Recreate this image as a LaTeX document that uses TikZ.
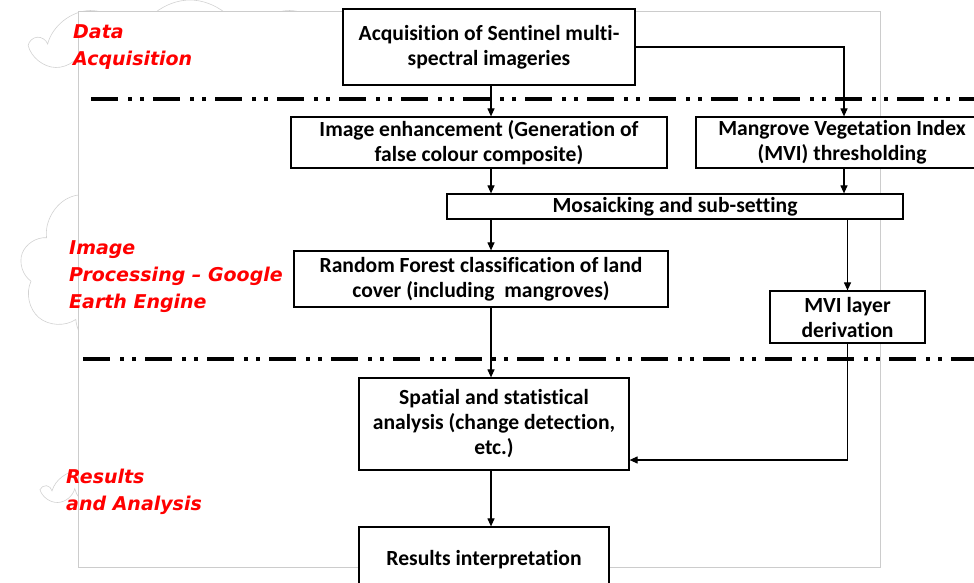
\documentclass[tikz,border=0pt]{standalone}
\usepackage{fontspec}
\setmainfont{Carlito}[Ligatures={NoCommon,TeX}]
\newfontfamily\redfont{DejaVu Sans}
\usetikzlibrary{shapes.symbols,arrows.meta}
\tikzset{
 box/.style={draw=black, line width=1.2pt, fill=white, align=center, font=\bfseries\fontsize{21.6}{25}\selectfont, inner sep=1pt},
 arr/.style={line width=1.1pt, -{Triangle[length=8pt,width=7pt]}},
 sepline/.style={line width=3.5pt, dash pattern=on 27pt off 10pt on 4pt off 8pt on 4pt off 9pt},
 lbl/.style={text=red, font=\redfont\bfseries\itshape\fontsize{19}{27}\selectfont, align=left, anchor=north west, inner sep=0pt},
 cloudbg/.style={cloud, cloud puffs=9, draw=gray!35, fill=white, line width=0.6pt},
 frame/.style={draw=gray!40, fill=white, line width=0.8pt},
}
\begin{document}
\begin{tikzpicture}[x=1pt,y=-1pt]
\useasboundingbox (0,0) rectangle (974,583);
% background clouds and frame
\node[cloudbg, minimum width=310pt, minimum height=90pt] (c1) at (190,45) {};
\node[cloudbg, minimum width=280pt, minimum height=190pt] (c2) at (160,270) {};
\node[cloudbg, minimum width=190pt, minimum height=50pt] (c3) at (140,490) {};
\draw[frame] (78,11) rectangle (880,567);
% separators
\coordinate (s1a) at (91,99);
\coordinate (s1b) at (974,99);
\coordinate (s2a) at (83,359);
\coordinate (s2b) at (974,359);
\draw[sepline] (s1a) -- (s1b);
\draw[sepline] (s2a) -- (s2b);
% labels
\node[lbl] (l1) at (73,24) {Data\\Acquisition};
\node[lbl] (l2) at (69,240) {Image\\Processing – Google\\Earth Engine};
\node[lbl] (l3) at (66,469) {Results\\and Analysis};
% boxes
\node[box, minimum width=292pt, minimum height=76pt] (acq) at (489,47) {Acquisition of Sentinel multi-\\spectral imageries};
\node[box, minimum width=376pt, minimum height=51pt] (enh) at (479,142.5) {Image enhancement (Generation of\\false colour composite)};
\node[box, minimum width=292pt, minimum height=51pt] (mvi) at (842,142.5) {Mangrove Vegetation Index\\(MVI) thresholding};
\node[box, minimum width=456pt, minimum height=25pt] (mos) at (675,206.5) {Mosaicking and sub-setting};
\node[box, minimum width=374pt, minimum height=56pt] (rf) at (481,279) {Random Forest classification of land\\cover (including\ \ mangroves)};
\node[box, minimum width=155pt, minimum height=52pt] (lay) at (847.5,317) {MVI layer\\derivation};
\node[box, minimum width=270pt, minimum height=92pt] (spa) at (494,424) {Spatial and statistical\\analysis (change detection,\\etc.)};
\node[box, minimum width=250pt, minimum height=66pt] (res) at (484,560) {Results interpretation};
% connectors
\coordinate (sx) at (491,0);
\coordinate (mx) at (844,0);
\coordinate (jy) at (0,460);
\draw[arr] (acq.south -| sx) -- (enh.north -| sx);
\draw[arr] (acq.east) -| (mvi.north -| mx);
\draw[arr] (enh.south -| sx) -- (mos.north -| sx);
\draw[arr] (mvi.south -| mx) -- (mos.north -| mx);
\draw[arr] (mos.south -| sx) -- (rf.north -| sx);
\draw[arr] (mos.south -| lay.center) -- (lay.north);
\draw[arr] (rf.south -| sx) -- (spa.north -| sx);
\draw[arr] (lay.south) |- (spa.east |- jy);
\draw[arr] (spa.south -| sx) -- (res.north -| sx);
\end{tikzpicture}
\end{document}
